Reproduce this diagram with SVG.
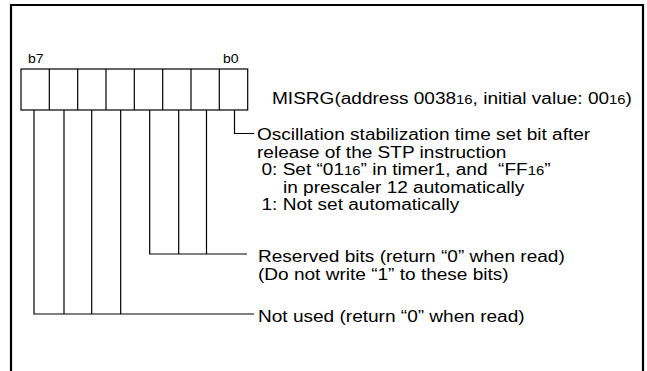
<svg xmlns="http://www.w3.org/2000/svg" width="647" height="371" viewBox="0 0 647 371">
<style>
.frame{fill:none;stroke:#000;stroke-width:2.2}
.cell{fill:#fff;stroke:#000;stroke-width:1.2}
.ln{fill:none;stroke:#000;stroke-width:1.2}
text{font-family:"Liberation Sans",Arial,sans-serif;font-size:16px;fill:#000}
.b{font-size:12.5px}
.s{font-size:12.5px}
</style>
<rect width="647" height="371" fill="#fff"/>
<path class="frame" d="M11,371 V5 H643 V371"/>
<g id="register">
<rect class="cell" x="21" y="69" width="226.7" height="41"/>
<path class="ln" d="M49.3,69V110M77.7,69V110M106,69V110M134.3,69V110M162.7,69V110M191,69V110M219.3,69V110"/>
<text class="b" transform="translate(28,63) scale(1.12,1)">b7</text>
<text class="b" transform="translate(223,63) scale(1.12,1)">b0</text>
<text transform="translate(272,104) scale(1.19,1)">MISRG(address 0038<tspan class="s">16</tspan>, initial value: 00<tspan class="s">16</tspan>)</text>
</g>
<g id="connectors">
<path class="ln" d="M234.5,110V133.5H254"/>
<path class="ln" d="M149.7,110V254H247M178.7,110V254M206.5,110V254"/>
<path class="ln" d="M34,110V314H254M64,110V314M91.7,110V314M120.7,110V314"/>
</g>
<g id="bit0">
<text transform="translate(257,140) scale(1.19,1)">Oscillation stabilization time set bit after</text>
<text transform="translate(257,157.5) scale(1.19,1)">release of the STP instruction</text>
<text transform="translate(261.5,175) scale(1.19,1)" xml:space="preserve">0: Set “01<tspan class="s">16</tspan>” in timer1, and  “FF<tspan class="s">16</tspan>”</text>
<text transform="translate(283,192.5) scale(1.19,1)">in prescaler 12 automatically</text>
<text transform="translate(261.5,210) scale(1.19,1)">1: Not set automatically</text>
</g>
<g id="reserved">
<text transform="translate(258,262) scale(1.19,1)">Reserved bits (return “0” when read)</text>
<text transform="translate(258,279.5) scale(1.19,1)">(Do not write “1” to these bits)</text>
</g>
<g id="notused">
<text transform="translate(258,322) scale(1.19,1)">Not used (return “0” when read)</text>
</g>
</svg>
